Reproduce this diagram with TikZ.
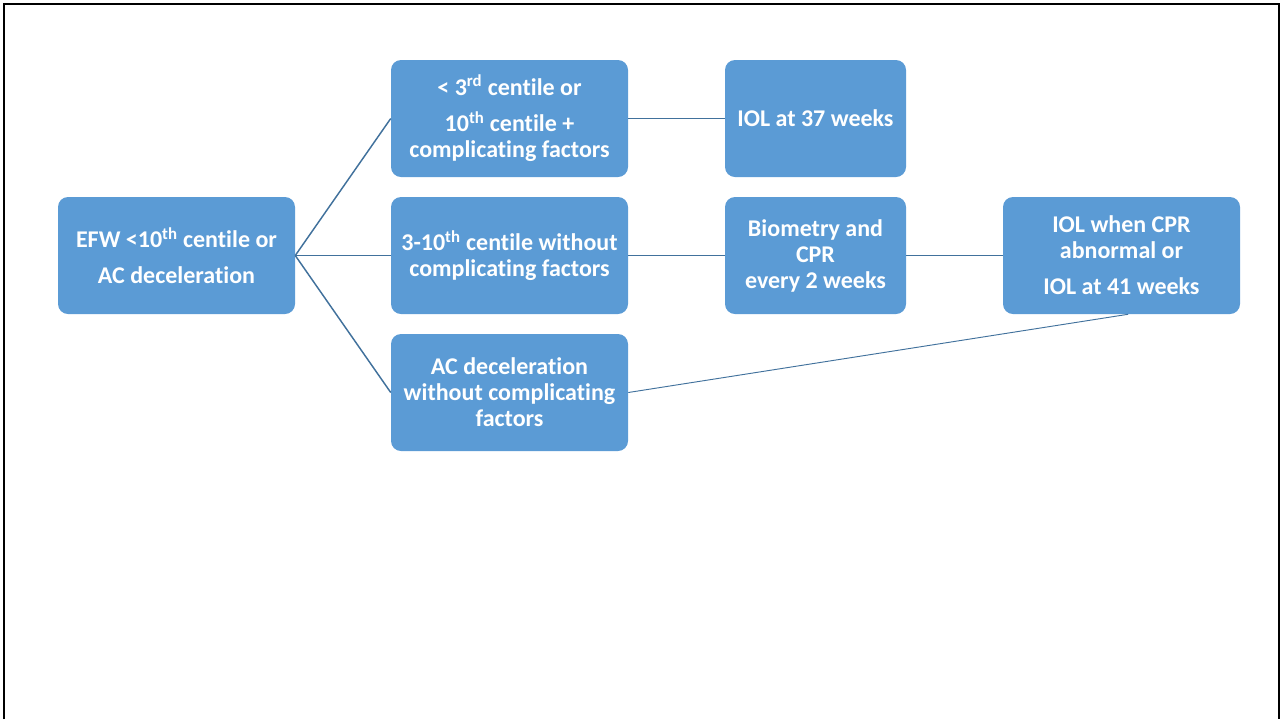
\documentclass[tikz,border=0pt]{standalone}
\usepackage{fontspec}
\setmainfont{Carlito}[RawFeature={-liga;-clig;-calt}]
\definecolor{boxblue}{HTML}{5B9BD5}
\definecolor{linkblue}{HTML}{41719C}
\begin{document}
\begin{tikzpicture}[x=0.75pt,y=-0.75pt,
  flowbox/.style={draw=none, fill=boxblue, rounded corners=7.5pt, text=white,
    align=center, inner sep=0pt, minimum height=87.75pt,
    font=\bfseries\fontsize{18}{19.5}\selectfont},
  widebox/.style={flowbox, minimum width=177.75pt},
  narrowbox/.style={flowbox, minimum width=135.75pt},
  link/.style={draw=linkblue, line width=1.1pt},
  thinlink/.style={draw=linkblue, line width=0.7pt}]
  \useasboundingbox (0,0) rectangle (1282,719);
  % page frame
  \draw[line width=1.6pt, black] (4,719) -- (4,4) -- (1279,4) -- (1279,719);

  % boxes
  \node[widebox] (efw) at (176.5,255.5)
    {EFW <10\textsuperscript{th} centile or\\[7pt]AC deceleration};
  \node[widebox] (low) at (509.5,118.5)
    {< 3\textsuperscript{rd} centile or\\[8pt]10\textsuperscript{th} centile +\\complicating factors};
  \node[widebox] (mid) at (509.5,255.5)
    {3-10\textsuperscript{th} centile without\\complicating factors};
  \node[widebox] (acd) at (509.5,392.5)
    {AC deceleration\\without complicating\\factors};
  \node[narrowbox] (iol37) at (815.5,118.5) {IOL at 37 weeks};
  \node[narrowbox] (bio) at (815.5,255.5)
    {Biometry and\\CPR\\every 2 weeks};
  \node[widebox] (iolw) at (1121.5,255.5)
    {IOL when CPR\\abnormal or\\[7.5pt]IOL at 41 weeks};

  % connectors
  \draw[link] (efw.east) -- (low.west);
  \draw[link] (efw.east) -- (mid.west);
  \draw[link] (efw.east) -- (acd.west);
  \draw[link] (low.east) -- (iol37.west);
  \draw[link] (mid.east) -- (bio.west);
  \draw[link] (bio.east) -- (iolw.west);
  \draw[thinlink] (acd.east) -- ([xshift=5pt]iolw.south);
\end{tikzpicture}
\end{document}
